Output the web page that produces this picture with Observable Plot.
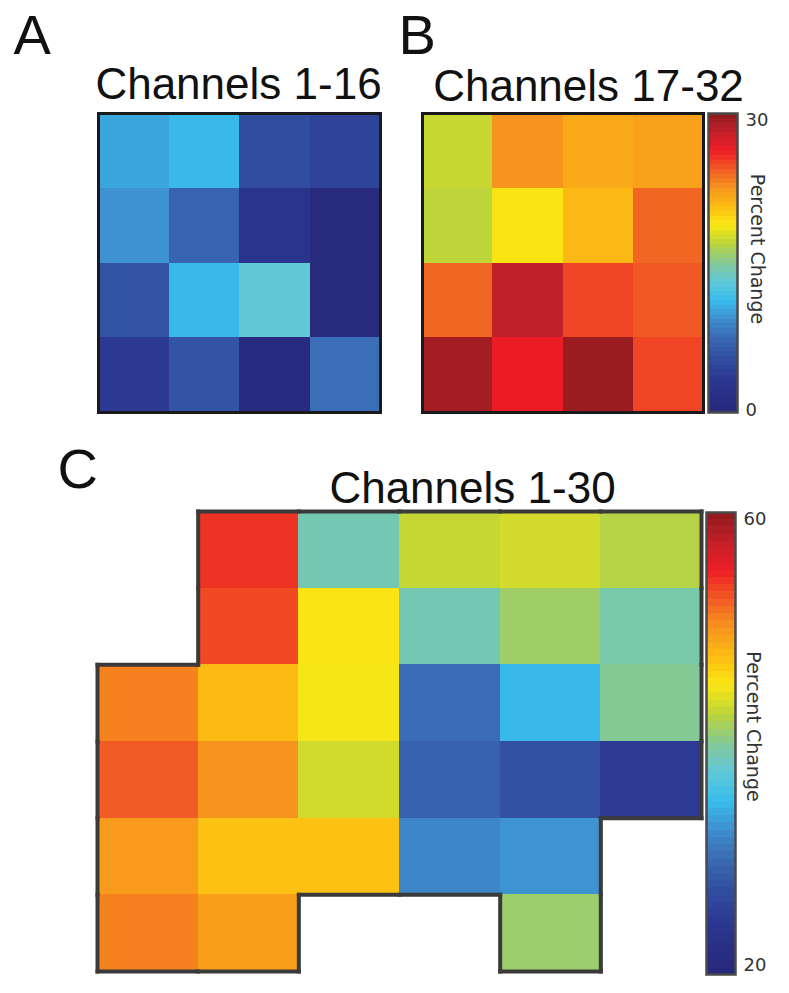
<!DOCTYPE html>
<html><head><meta charset="utf-8">
<script src="https://cdn.jsdelivr.net/npm/d3@7"></script>
<script src="https://cdn.jsdelivr.net/npm/@observablehq/plot@0.6"></script>
<style>
html,body{margin:0;padding:0;background:#fff;}
#fig{position:relative;width:789px;height:993px;overflow:hidden;background:#fff;}
#fig > svg{position:absolute;}
</style></head><body><div id="fig"></div>
<script>
const panelLetters = ["A", "B", "C"];
const panelTitles = ["Channels 1-16", "Channels 17-32", "Channels 1-30"];
const colorbarLabel = "Percent Change";
const rangeAB = [0, 30];
const rangeC = [20, 60];

// Percent change per electrode (rows top to bottom, columns left to right)
const channelsA = [
  [10.3, 11.1, 5.4, 4.5],
  [9.5, 7.1, 2.6, 0.6],
  [5.9, 11.1, 13.2, 0.6],
  [3.5, 5.9, 1.0, 7.7]
];
const channelsB = [
  [17.2, 22.5, 21.5, 21.9],
  [16.9, 18.9, 20.8, 24.0],
  [24.0, 28.2, 25.0, 24.4],
  [29.2, 26.3, 29.5, 25.0]
];
const channelsC = [
  [null, 54.1, 38.9, 42.8, 43.4, 42.2],
  [null, 53.2, 45.2, 38.9, 41.2, 39.2],
  [50.8, 47.6, 44.8, 30.2, 34.8, 40.0],
  [52.4, 50.0, 43.3, 29.2, 27.6, 24.8],
  [49.6, 47.2, 47.2, 31.9, 32.7, null],
  [50.8, 49.3, null, null, 41.1, null]
];
const jetColors = ["#27287a", "#292f86", "#2c3b95", "#3250a2", "#3a6ab3", "#3e8fcf", "#38bdec", "#60c8d8",
  "#84c894", "#bcd53a", "#fbe714", "#fdbc13", "#f7941d", "#f15a24", "#ed1c24", "#c1202a", "#8c1a1c"];
const colorbarLevels = 64;

const jet = d3.piecewise(d3.interpolateRgb, jetColors);
const fig = document.getElementById("fig");
const sans = "'Liberation Sans', Arial, Helvetica, sans-serif";

function toCells(grid) {
  const cells = [];
  grid.forEach((row, r) => row.forEach((v, c) => { if (v != null) cells.push({r, c, v}); }));
  return cells;
}
function outline(cells) {
  const has = new Set(cells.map(d => d.r + "," + d.c));
  const e = [];
  for (const {r, c} of cells) {
    if (!has.has((r - 1) + "," + c)) e.push({x1: c, y1: r, x2: c + 1, y2: r});
    if (!has.has((r + 1) + "," + c)) e.push({x1: c, y1: r + 1, x2: c + 1, y2: r + 1});
    if (!has.has(r + "," + (c - 1))) e.push({x1: c, y1: r, x2: c, y2: r + 1});
    if (!has.has(r + "," + (c + 1))) e.push({x1: c + 1, y1: r, x2: c + 1, y2: r + 1});
  }
  return e;
}
function place(svg, left, top) {
  svg.style.left = left + "px";
  svg.style.top = top + "px";
  fig.appendChild(svg);
}

function gridPanel(o) {
  const cells = toCells(o.grid);
  const nr = o.grid.length, nc = o.grid[0].length;
  const edges = outline(cells);
  const svg = Plot.plot({
    width: o.width, height: o.height,
    marginLeft: o.ml, marginRight: o.mr, marginTop: o.mt, marginBottom: o.mb,
    style: {background: "transparent", overflow: "visible", fontFamily: sans},
    x: {domain: [0, nc], axis: null},
    y: {domain: [0, nr], axis: null, reverse: true},
    color: {type: "linear", domain: o.domain, interpolate: jet},
    marks: [
      Plot.rect(cells, {x1: "c", x2: d => d.c + 1, y1: "r", y2: d => d.r + 1, fill: "v", shapeRendering: "crispEdges"}),
      Plot.link(edges, {x1: "x1", y1: "y1", x2: "x2", y2: "y2", stroke: o.border, strokeWidth: o.bw, strokeLinecap: "square"}),
      Plot.text([o.title], {text: d => d, frameAnchor: "top", textAnchor: "middle", lineAnchor: "bottom", dx: o.tdx, dy: o.tdy, fontSize: 44, fill: "#111", fontFamily: sans}),
      Plot.text([o.letter], {text: d => d, frameAnchor: "top-left", textAnchor: "start", lineAnchor: "bottom", dx: o.ldx, dy: o.ldy, fontSize: 56, fill: "#111", fontFamily: sans})
    ]
  });
  place(svg, o.left, o.top);
}

function colorbar(o) {
  const [d0, d1] = o.domain;
  const step = (d1 - d0) / colorbarLevels;
  const bands = d3.range(colorbarLevels).map(i => ({y1: d0 + i * step, y2: d0 + (i + 1) * step, v: d0 + (i + 0.5) * step}));
  const svg = Plot.plot({
    width: o.width, height: o.height,
    marginLeft: o.ml, marginRight: o.mr, marginTop: o.mt, marginBottom: o.mb,
    style: {background: "transparent", overflow: "visible", fontFamily: "'DejaVu Sans', sans-serif"},
    x: {domain: [0, 1], axis: null},
    y: {domain: o.domain, axis: null},
    color: {type: "linear", domain: o.domain, interpolate: jet},
    marks: [
      Plot.rect(bands, {x1: 0, x2: 1, y1: "y1", y2: "y2", fill: "v", shapeRendering: "crispEdges"}),
      Plot.frame({stroke: "#4a4a4a", strokeWidth: 2.5}),
      Plot.text([d1], {x: 1, y: d => d, text: d => String(d), dx: 8, textAnchor: "start", lineAnchor: "top", fontSize: 18, fill: "#333"}),
      Plot.text([d0], {x: 1, y: d => d, text: d => String(d), dx: 8, textAnchor: "start", lineAnchor: "bottom", dy: o.bdy, fontSize: 18, fill: "#333"}),
      Plot.text([colorbarLabel], {text: d => d, frameAnchor: "right", textAnchor: "middle", lineAnchor: "middle", rotate: 90, dx: o.ldx, dy: o.ldy, fontSize: 19, fill: "#333"})
    ]
  });
  place(svg, o.left, o.top);
}

gridPanel({grid: channelsA, domain: rangeAB, left: 0, top: 0, width: 400, height: 430,
  ml: 98, mr: 20, mt: 113, mb: 18, border: "#1a1a1a", bw: 3,
  title: panelTitles[0], tdx: -1, tdy: -15, letter: panelLetters[0], ldx: -85, ldy: -60});

gridPanel({grid: channelsB, domain: rangeAB, left: 400, top: 0, width: 389, height: 430,
  ml: 22, mr: 86, mt: 113, mb: 18, border: "#1a1a1a", bw: 3,
  title: panelTitles[1], tdx: 25.5, tdy: -13, letter: panelLetters[1], ldx: -24, ldy: -60});

colorbar({domain: rangeAB, left: 700, top: 0, width: 89, height: 430,
  ml: 8, mr: 52, mt: 113, mb: 18, bdy: 3, ldx: 20, ldy: -14});

gridPanel({grid: channelsC, domain: rangeC, left: 0, top: 430, width: 789, height: 563,
  ml: 97, mr: 88, mt: 81, mb: 22, border: "#3a3a3a", bw: 4,
  title: panelTitles[2], tdx: 73, tdy: -9, letter: panelLetters[2], ldx: -40, ldy: -24});

colorbar({domain: rangeC, left: 700, top: 430, width: 89, height: 563,
  ml: 6, mr: 54, mt: 82, mb: 19, bdy: -4, ldx: 18, ldy: -17});
</script></body></html>
